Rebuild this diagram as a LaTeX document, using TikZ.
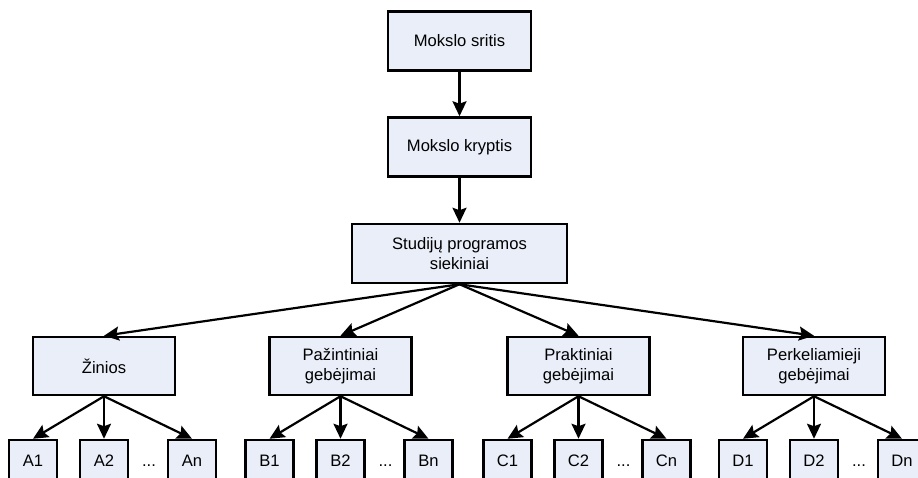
\documentclass[tikz,border=0pt]{standalone}
\usepackage{fontspec}
\setmainfont{Liberation Sans}
\usetikzlibrary{arrows.meta}
\definecolor{boxblue}{RGB}{233,238,248}

\begin{document}
\begin{tikzpicture}[x=1pt,y=-1pt,
    box/.style={draw=black,line width=2.5pt,fill=boxblue,align=center,inner sep=0pt,
      font=\fontsize{16.6}{20}\selectfont},
    lev/.style={box,minimum width=142pt,minimum height=58pt},
    leaf/.style={box,minimum width=48pt,minimum height=42pt},
    arr/.style={line width=2.2pt,-{Stealth[length=15pt,width=14pt,inset=2.5pt]}}]
  \clip (0,0) rectangle (918,478);
  % upper chain
  \node[box,minimum width=143pt,minimum height=59pt] (srit) at (459.5,41) {Mokslo sritis};
  \node[box,minimum width=143pt,minimum height=59pt] (krypt) at (459.5,147) {Mokslo kryptis};
  \node[box,minimum width=215pt,minimum height=59pt] (siek) at (459.5,253.5) {Studijų programos\\siekiniai};
  \draw[arr] (srit.south) -- (krypt.north);
  \draw[arr] (krypt.south) -- (siek.north);
  % result groups
  \node[lev] (zin) at (104,366) {Žinios};
  \node[lev] (paz) at (340.5,366) {Pažintiniai\\gebėjimai};
  \node[lev] (prak) at (578.5,366) {Praktiniai\\gebėjimai};
  \node[lev] (perk) at (814,366) {Perkeliamieji\\gebėjimai};
  \foreach \p/\l in {zin/A,paz/B,prak/C,perk/D} {
    \draw[arr] (siek.south) -- (\p.north);
    \path (\p.center) ++(-71,95) node[leaf] (\p1) {\l1};
    \path (\p.center) ++(0,95) node[leaf] (\p2) {\l2};
    \path (\p.center) ++(88,95) node[leaf] (\p n) {\l n};
    \path (\p.center) ++(45,100) node[anchor=base,inner sep=0pt,font=\fontsize{16.6}{20}\selectfont] (\p dots) {...};
    \draw[arr] (\p.south) -- (\p1.north);
    \draw[arr] (\p.south) -- (\p2.north);
    \draw[arr] (\p.south) -- (\p n.north);
  }
\end{tikzpicture}
\end{document}
